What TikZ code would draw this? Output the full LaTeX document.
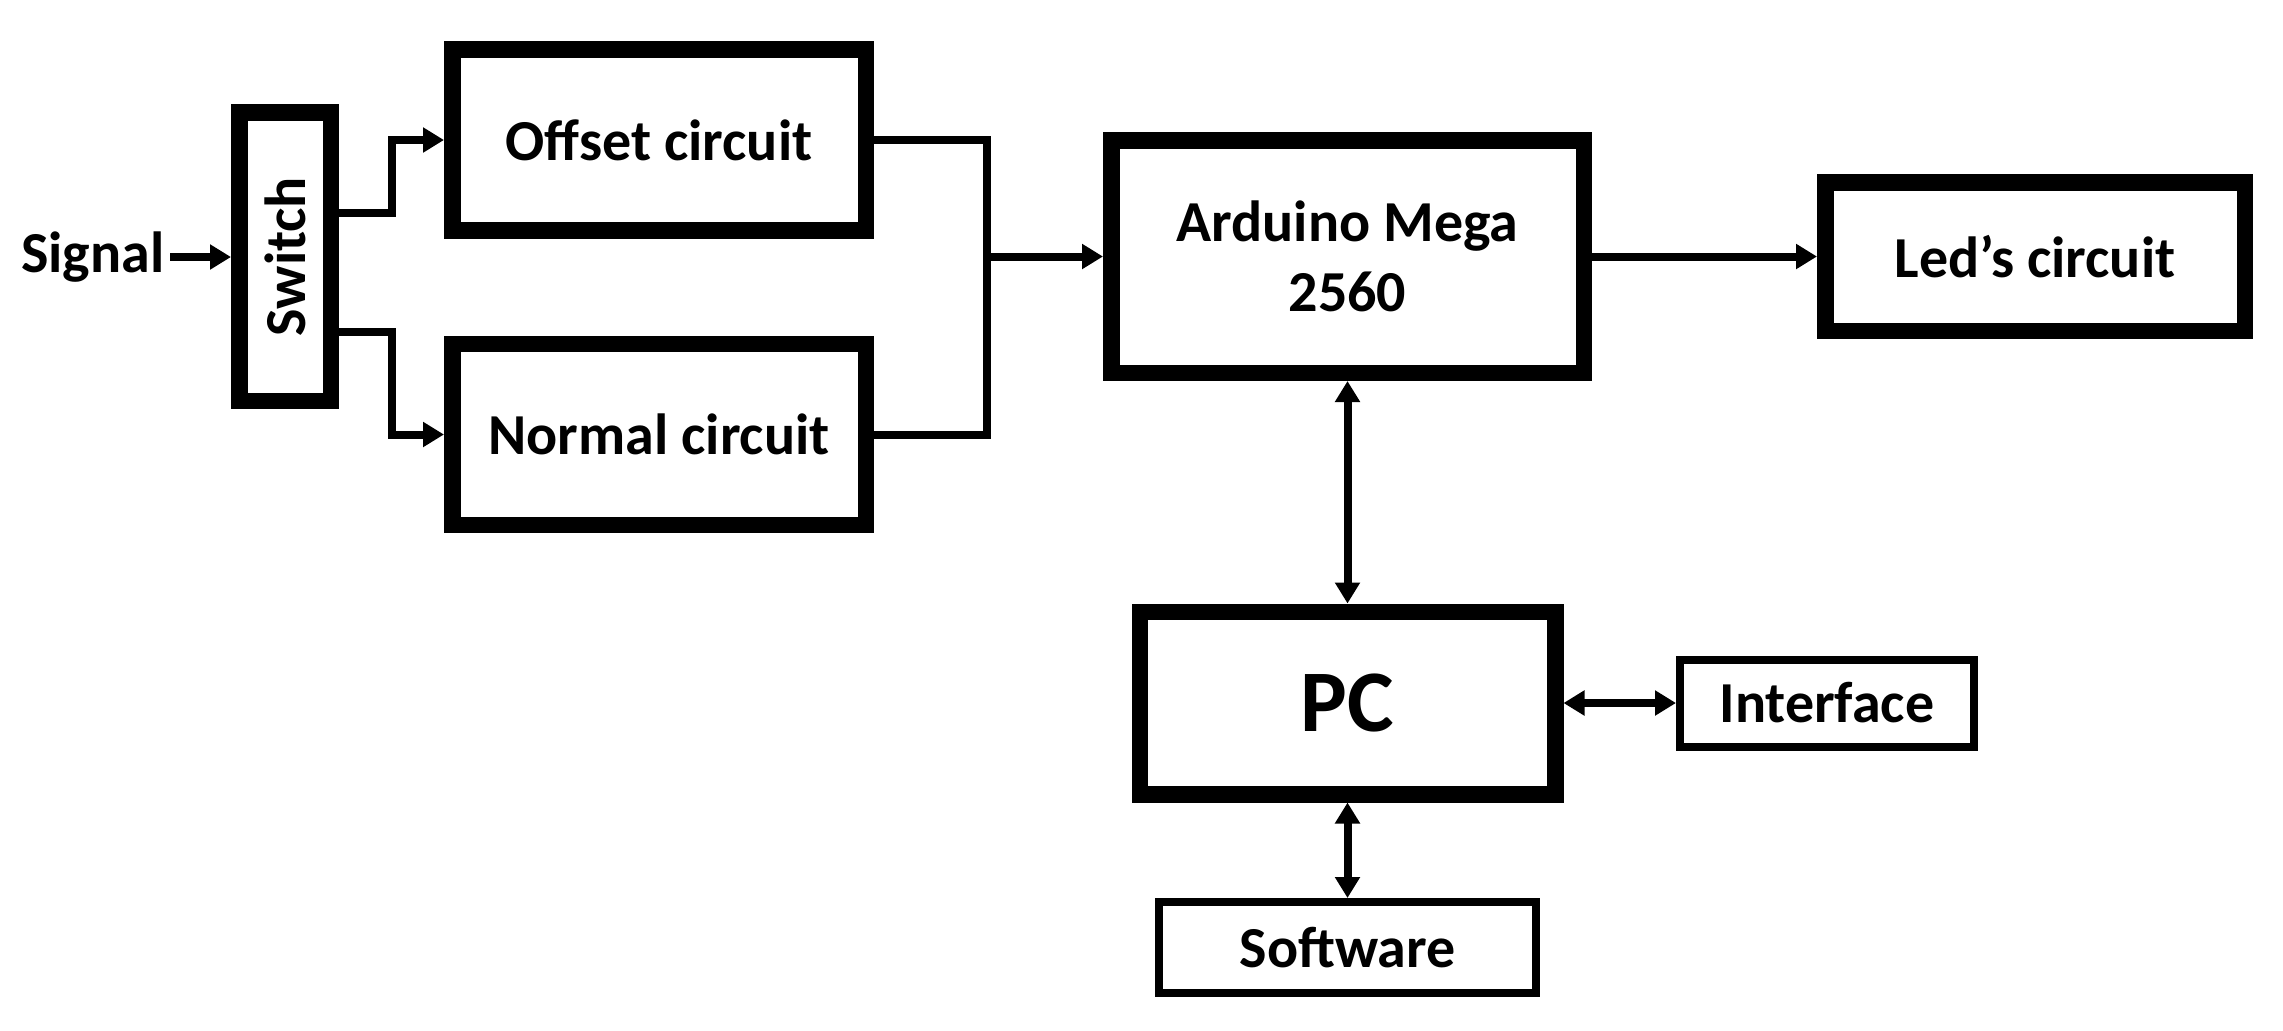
\documentclass[tikz,border=0pt]{standalone}
\usepackage{fontspec}
\setmainfont{Carlito}
\usetikzlibrary{arrows.meta}

\begin{document}
\begin{tikzpicture}[
  >={Triangle[length=2.1mm,width=2.4mm]},
  blk/.style={draw, line width=1.65mm, inner sep=0pt, align=center,
              font=\bfseries\fontsize{16.5}{19.9}\selectfont},
  sblk/.style={blk, line width=0.8mm},
  lbl/.style={inner sep=0.5mm, font=\bfseries\fontsize{16.5}{19.9}\selectfont},
  wire/.style={line width=0.8mm},
  arr/.style={wire, ->},
  darr/.style={wire, <->}
]
\useasboundingbox (0,0) rectangle (22.83,-10.30);

%% ── input side ─────────────────────────────────
\node[lbl, anchor=east] (sig) at (1.70,-2.57) {Signal};
\node[blk, minimum width=9.15mm, minimum height=28.85mm]
     (sw) at (2.85,-2.565) {\rotatebox{90}{Switch}};
\node[blk, minimum width=41.35mm, minimum height=18.1mm]
     (off)  at (6.59,-1.40)  {Offset circuit};
\node[blk, minimum width=41.35mm, minimum height=18.1mm]
     (norm) at (6.59,-4.345) {Normal circuit};
\coordinate (mrg) at (9.87,-2.565);

%% ── controller and outputs ─────────────────────
\node[blk, minimum width=47.25mm, minimum height=23.25mm]
     (ard) at (13.475,-2.565) {Arduino Mega\\2560};
\node[blk, minimum width=41.95mm, minimum height=14.85mm]
     (led) at (20.35,-2.565) {Led’s circuit};
\node[blk, minimum width=41.55mm, minimum height=18.25mm,
      font=\bfseries\fontsize{25}{30}\selectfont]
     (pc) at (13.475,-7.03) {PC};
\node[sblk, minimum width=29.4mm, minimum height=8.7mm]
     (intf) at (18.27,-7.03) {Interface};
\node[sblk, minimum width=37.7mm, minimum height=9.1mm]
     (soft) at (13.475,-9.475) {Software};

% signal path
\draw[arr] (sig.east) -- (sig.east -| sw.west);
\draw[arr] ([yshift=4.35mm]sw.east) -- ++(0.53,0) |- (off.west);
\draw[arr] ([yshift=-7.55mm]sw.east) -- ++(0.53,0) |- (norm.west);
\draw[wire] (off.east) -| (mrg) |- (norm.east);
\draw[arr] (mrg) -- (ard.west);
\draw[arr] (ard) -- (led);

% PC links
\draw[darr] (ard) -- (pc);
\draw[darr] (pc) -- (intf);
\draw[darr] (pc) -- (soft);

\end{tikzpicture}
\end{document}
